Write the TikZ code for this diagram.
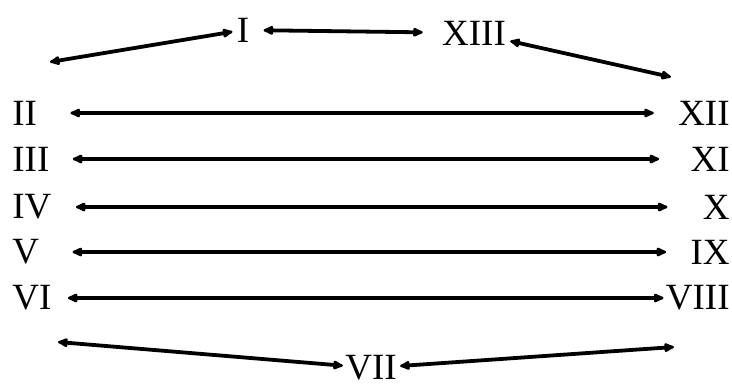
\documentclass[tikz,border=0pt]{standalone}
\usepackage{fontspec}
\setmainfont{Liberation Serif}
\usetikzlibrary{arrows.meta}
\tikzstyle{numeral}=[inner sep=0pt,font=\fontsize{18.5}{22}\selectfont]
\tikzstyle{link} = [draw,line width=1.9pt,{Latex[round,length=6.5pt,width=5.5pt]}-{Latex[round,length=6.5pt,width=5.5pt]}]

\begin{document}
\begin{tikzpicture}[x=0.5pt,y=-0.5pt]
  \useasboundingbox (0,0) rectangle (732,386);

   \foreach \y/\name in {113/II, 159/III, 207/IV, 252/V, 298/VI}
          \node[numeral,anchor=west] (\name) at (12,\y) {\name};

   \foreach \y/\name in {113/XII, 159/XI, 207/X, 252/IX, 298/VIII}
          \node[numeral,anchor=east] (\name) at (730,\y) {\name};

   \foreach \x/\y/\name in {243/30/I, 474/33/XIII, 371/368/VII}
          \node[numeral] (\name) at (\x,\y) {\name};

   \foreach \x/\y/\name in {50/62/ul, 671/77/ur, 58/342/ll, 674/347/lr}
          \coordinate (\name) at (\x,\y);

  \foreach \source/ \dest /\sa/\sb in {II/XII/33/24, III/XI/23/31, IV/X/24/35, V/IX/33/24, VI/VIII/16/2}
         \path[link, shorten <=\sa*0.5pt, shorten >=\sb*0.5pt] (\source) -- (\dest);

  \foreach \source/ \dest /\sa/\sb in {I/ul/4/0, I/XIII/14/19, XIII/ur/4/0, VII/ll/2/0, VII/lr/3/0}
         \path[link, shorten <=\sa*0.5pt, shorten >=\sb*0.5pt] (\source) -- (\dest);

\end{tikzpicture}
\end{document}
